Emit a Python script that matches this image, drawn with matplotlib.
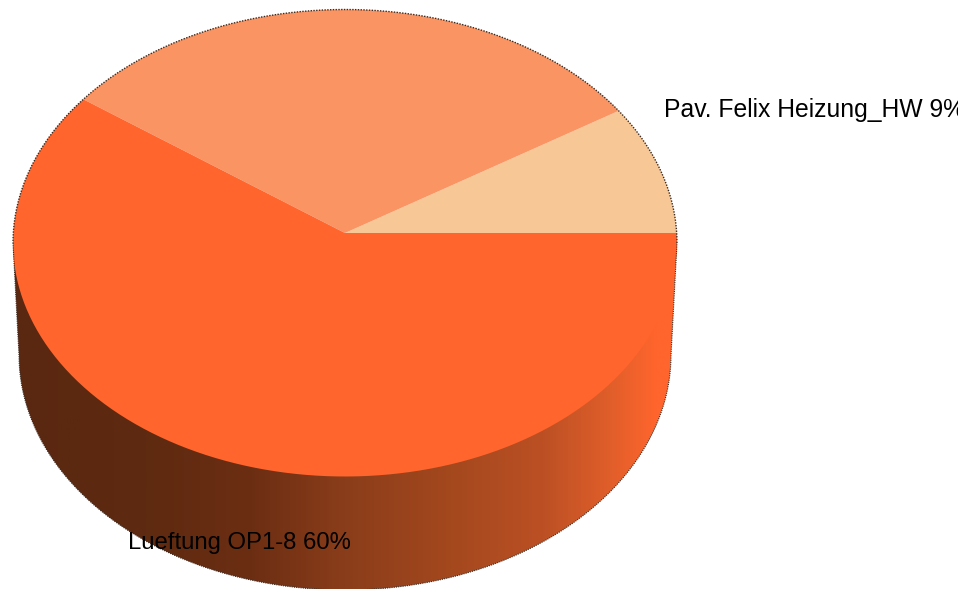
import matplotlib
matplotlib.use("Agg")
import matplotlib.pyplot as plt
from matplotlib.colors import LinearSegmentedColormap
from matplotlib.patches import PathPatch, Rectangle
from matplotlib.path import Path
import numpy as np

plt.rcParams['font.family'] = ['Liberation Sans', 'DejaVu Sans']

# share per load, counter-clockwise from the right hand side
shares = [9, 31, 60]
names = ["Pav. Felix Heizung_HW", "", "Lueftung OP1-8"]
colors = ["#F7C796", "#FA9563", "#FF652D"]

# side wall shading from left to right
wall_colors = ["#5A2710", "#5E2A10", "#6C2E13", "#8A3D1A", "#A4481E", "#BC5024", "#E05E2A", "#FF652D", "#FF652D"]
wall_stops = [0.0, 0.2, 0.36, 0.5, 0.66, 0.8, 0.9, 0.97, 1.0]

W, H = 973, 589
rx, ry = 332.0, 233.5   # top face radii in pixels
cx, cy = 345.0, 243.0   # top face centre in pixels
apex_up = 10 / ry       # wedges meet a little above the ellipse centre
depth = 112 / ry
base_scale = 326 / rx   # the bottom edge is a bit narrower than the top face

fig = plt.figure(figsize=(W / 100, H / 100), dpi=100)
ax = fig.add_axes([0, 0, 1, 1])

# side wall: gradient clipped to the lower half of the cylinder
t = np.linspace(np.pi, 2 * np.pi, 300)
wall_x = np.concatenate([[-1], base_scale * np.cos(t), [1]])
wall_y = np.concatenate([[0], 235 / ry * np.sin(t) - depth, [0]])
wall_patch = PathPatch(Path(np.column_stack([wall_x, wall_y])), facecolor="none",
                       edgecolor="none", transform=ax.transData)
ax.add_patch(wall_patch)
cmap = LinearSegmentedColormap.from_list("wall", list(zip(wall_stops, wall_colors)))
im = ax.imshow(np.linspace(0, 1, 512).reshape(1, -1), cmap=cmap, aspect="auto",
               extent=(-1, 1, -1.01 - depth, 0), zorder=1)
im.set_clip_path(wall_patch)

# top face: oversized wedges from the apex, cut back to the ellipse
face_t = np.linspace(0, 2 * np.pi, 600)
face_patch = PathPatch(Path(np.column_stack([np.cos(face_t), np.sin(face_t)])), facecolor="none",
                       edgecolor="none", transform=ax.transData)
ax.add_patch(face_patch)
wedges, _ = ax.pie(shares, colors=colors, center=(0, apex_up), radius=1.3,
                   startangle=0, counterclock=True, normalize=True, frame=True)
for w in wedges:
    w.set_zorder(2)
    w.set_clip_on(True)
    w.set_clip_path(face_patch)

# fine dark rim around the outside
rim_t = np.linspace(0, np.pi, 300)
ax.plot(np.cos(rim_t), np.sin(rim_t), color="#3A2A20", lw=1.0, ls=(0, (1, 1)), zorder=3)
ax.plot(wall_x, wall_y, color="#3A2A20", lw=0.8, ls=(0, (1, 1)), zorder=3)

ax.set_aspect("auto")
ax.set_xlim(-cx / rx, (W - cx) / rx)
ax.set_ylim((cy - H) / ry, cy / ry)
ax.axis("off")

# labels, the upper one runs out of the drawing area
upper = ax.text((664 - cx) / rx, (cy - 110) / ry, f"{names[0]} {shares[0]}%", fontsize=17.8,
                va="center", ha="left", color="black", zorder=5, clip_on=True)
upper.set_clip_path(Rectangle((-cx / rx, (cy - H) / ry), 958 / rx, H / ry, transform=ax.transData))
ax.text((128 - cx) / rx, (cy - 543) / ry, f"{names[2]} {shares[2]}%", fontsize=17.2,
        va="center", ha="left", color="black", zorder=5)

fig.savefig("out.png", dpi=100, facecolor="white")
